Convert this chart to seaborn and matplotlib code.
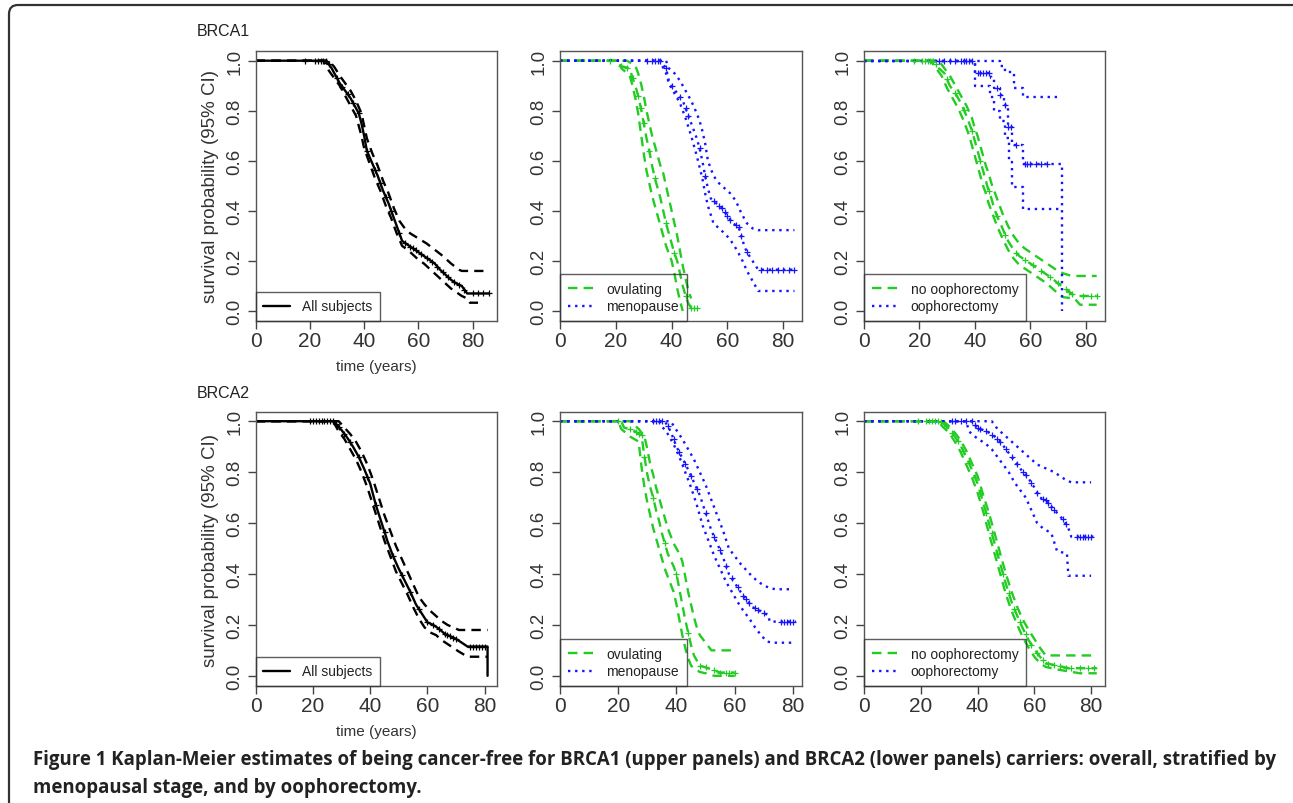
import numpy as np
import pandas as pd
import matplotlib
matplotlib.use("Agg")
import matplotlib.pyplot as plt
from matplotlib.lines import Line2D
from matplotlib.patches import FancyBboxPatch
from matplotlib.transforms import IdentityTransform
import seaborn as sns

# ---- data: (time, survival) curves ----
# BRCA1, all subjects
b1_all_t = [0, 26, 28, 29, 30, 31, 33, 35, 37, 38, 39, 40, 41, 43, 45, 47, 49, 51, 52, 54, 56, 58, 60, 62, 64, 66, 68, 70, 72, 74, 76, 78, 86]
b1_all_s = [1.0, 1.0, 0.97, 0.95, 0.93, 0.91, 0.88, 0.85, 0.81, 0.79, 0.75, 0.70, 0.64, 0.59, 0.54, 0.48, 0.43, 0.37, 0.34, 0.28, 0.265, 0.25, 0.235, 0.22, 0.205, 0.19, 0.165, 0.145, 0.125, 0.11, 0.1, 0.07, 0.07]
b1_all_hi_t = [0, 27, 29, 31, 33, 35, 37, 39, 40, 41, 43, 45, 47, 49, 51, 53, 55, 57, 60, 63, 66, 69, 72, 75, 76, 84]
b1_all_hi_s = [1.0, 1.0, 0.975, 0.94, 0.91, 0.88, 0.84, 0.79, 0.74, 0.69, 0.63, 0.58, 0.52, 0.47, 0.41, 0.36, 0.33, 0.31, 0.29, 0.27, 0.245, 0.22, 0.19, 0.165, 0.16, 0.16]
b1_all_lo_t = [0, 25, 27, 29, 31, 33, 35, 37, 38, 39, 40, 42, 44, 46, 48, 50, 52, 54, 56, 58, 60, 62, 64, 66, 68, 70, 72, 74, 76, 78, 79, 82]
b1_all_lo_s = [1.0, 1.0, 0.96, 0.93, 0.90, 0.86, 0.82, 0.78, 0.74, 0.70, 0.65, 0.59, 0.53, 0.48, 0.42, 0.37, 0.31, 0.26, 0.245, 0.225, 0.205, 0.19, 0.17, 0.15, 0.13, 0.11, 0.09, 0.075, 0.06, 0.05, 0.033, 0.033]
b1_all_cens = [18, 22, 23, 24, 25, 26, 27, 30, 32, 34, 36, 38, 41, 44, 46, 48, 50, 53, 55, 57, 58, 59, 61, 63, 65, 67, 69, 71, 73, 75, 77, 80, 82, 84, 86]

# BRCA1, ovulating / menopause
b1_ovu_t = [0, 20, 21, 25, 26, 27, 28, 29, 30, 31, 32, 33, 34, 35, 36, 37, 38, 39, 40, 41, 42, 43, 44, 45, 46, 47, 49]
b1_ovu_s = [1.0, 1.0, 0.98, 0.97, 0.93, 0.90, 0.86, 0.81, 0.75, 0.69, 0.64, 0.58, 0.53, 0.49, 0.45, 0.40, 0.35, 0.31, 0.27, 0.23, 0.20, 0.15, 0.10, 0.06, 0.03, 0.013, 0.013]
b1_ovu_lo_t = [0, 21, 22, 25, 26, 27, 28, 29, 30, 31, 32, 33, 34, 35, 36, 37, 38, 39, 40, 41, 42, 43, 44]
b1_ovu_lo_s = [1.0, 1.0, 0.97, 0.94, 0.90, 0.85, 0.79, 0.71, 0.63, 0.56, 0.51, 0.46, 0.42, 0.38, 0.34, 0.30, 0.26, 0.23, 0.20, 0.15, 0.09, 0.04, 0.0]
b1_ovu_hi_t = [0, 24, 27, 28, 29, 30, 31, 32, 33, 34, 35, 36, 37, 38, 39, 40, 41, 42, 43, 44, 45, 46, 47]
b1_ovu_hi_s = [1.0, 1.0, 0.98, 0.95, 0.91, 0.86, 0.80, 0.75, 0.70, 0.66, 0.62, 0.58, 0.55, 0.50, 0.45, 0.40, 0.35, 0.30, 0.24, 0.18, 0.13, 0.08, 0.05]
b1_ovu_cens = [18, 22, 24, 26, 28, 29, 30, 32, 34, 38, 41, 45, 47, 48, 49]
b1_men_t = [0, 36, 38, 39, 40, 42, 44, 46, 47, 48, 49, 50, 51, 52, 53, 54, 56, 58, 60, 62, 64, 65, 66, 67, 69, 71, 84]
b1_men_s = [1.0, 1.0, 0.97, 0.92, 0.90, 0.87, 0.84, 0.78, 0.75, 0.72, 0.69, 0.65, 0.60, 0.54, 0.49, 0.45, 0.43, 0.41, 0.38, 0.35, 0.335, 0.30, 0.26, 0.235, 0.20, 0.165, 0.165]
b1_men_hi_t = [0, 38, 39, 41, 43, 45, 47, 49, 50, 51, 52, 53, 55, 57, 59, 61, 63, 65, 67, 69, 71, 84]
b1_men_hi_s = [1.0, 1.0, 0.97, 0.95, 0.92, 0.88, 0.84, 0.79, 0.76, 0.72, 0.67, 0.60, 0.54, 0.51, 0.49, 0.47, 0.44, 0.39, 0.35, 0.33, 0.323, 0.323]
b1_men_lo_t = [0, 36, 37, 38, 39, 41, 43, 45, 47, 49, 51, 52, 53, 55, 57, 59, 61, 63, 65, 67, 69, 71, 84]
b1_men_lo_s = [1.0, 1.0, 0.97, 0.95, 0.91, 0.87, 0.83, 0.77, 0.70, 0.62, 0.53, 0.47, 0.42, 0.35, 0.33, 0.31, 0.285, 0.25, 0.21, 0.16, 0.12, 0.08, 0.08]
b1_men_cens = [31, 33, 34, 35, 36, 38, 40, 43, 45, 46, 50, 52, 55, 57, 58, 59, 60, 61, 63, 64, 65, 67, 72, 74, 76, 78, 80, 82, 84]

# BRCA1, no oophorectomy / oophorectomy (the latter is a small group: real steps)
b1_noo_t = [0, 25, 27, 29, 31, 33, 35, 37, 38, 39, 40, 41, 42, 43, 44, 45, 46, 47, 48, 50, 52, 54, 56, 58, 60, 62, 64, 66, 68, 70, 72, 76, 84]
b1_noo_s = [1.0, 1.0, 0.97, 0.95, 0.90, 0.87, 0.83, 0.78, 0.75, 0.72, 0.68, 0.64, 0.60, 0.56, 0.52, 0.48, 0.45, 0.41, 0.38, 0.33, 0.28, 0.245, 0.22, 0.205, 0.19, 0.175, 0.16, 0.145, 0.13, 0.11, 0.095, 0.06, 0.06]
b1_noo_hi_t = [0, 27, 29, 31, 33, 35, 37, 39, 40, 41, 42, 43, 44, 45, 46, 47, 48, 50, 52, 54, 56, 58, 60, 62, 64, 66, 68, 70, 72, 75, 84]
b1_noo_hi_s = [1.0, 1.0, 0.97, 0.94, 0.90, 0.86, 0.82, 0.77, 0.73, 0.70, 0.66, 0.62, 0.58, 0.55, 0.51, 0.48, 0.45, 0.39, 0.34, 0.30, 0.27, 0.25, 0.235, 0.22, 0.205, 0.19, 0.175, 0.16, 0.15, 0.14, 0.14]
b1_noo_lo_t = [0, 24, 26, 28, 30, 32, 34, 36, 37, 38, 39, 40, 41, 42, 43, 44, 45, 46, 47, 48, 50, 52, 54, 56, 58, 60, 62, 64, 66, 68, 70, 72, 76, 78, 84]
b1_noo_lo_s = [1.0, 1.0, 0.97, 0.94, 0.89, 0.85, 0.81, 0.76, 0.73, 0.70, 0.66, 0.62, 0.58, 0.54, 0.50, 0.47, 0.43, 0.40, 0.37, 0.34, 0.29, 0.245, 0.21, 0.185, 0.17, 0.155, 0.14, 0.125, 0.11, 0.09, 0.07, 0.055, 0.05, 0.025, 0.025]
b1_noo_cens = [18, 21, 22, 23, 24, 25, 26, 30, 33, 36, 39, 42, 45, 48, 51, 55, 58, 61, 64, 67, 70, 73, 74, 75, 79, 82, 84]
b1_oop_t = [0, 40, 46, 47, 49, 50.5, 52, 53.5, 57.5, 71.5]
b1_oop_s = [1.0, 0.95, 0.93, 0.89, 0.862, 0.822, 0.735, 0.662, 0.588, 0.0]
b1_oop_hi_t = [0, 49, 51, 54, 57.5, 71.3]
b1_oop_hi_s = [1.0, 0.98, 0.956, 0.89, 0.856, 0.856]
b1_oop_lo_t = [0, 40, 45.5, 47, 49, 51, 52.5, 53.5, 57.5, 71.3]
b1_oop_lo_s = [1.0, 0.90, 0.856, 0.80, 0.76, 0.69, 0.595, 0.495, 0.408, 0.408]
b1_oop_cens = [27, 29, 31, 33, 35, 36, 37, 38, 39, 41, 42, 43, 44, 45, 48, 49, 51, 52, 53, 55, 58, 59, 60, 62, 64, 66]

# BRCA2, all subjects
b2_all_t = [0, 27, 28, 30, 32, 34, 36, 38, 40, 42, 44, 46, 48, 50, 52, 54, 56, 58, 60, 62, 64, 66, 68, 70, 72, 74, 81, 81]
b2_all_s = [1.0, 1.0, 0.99, 0.965, 0.935, 0.90, 0.86, 0.81, 0.755, 0.67, 0.60, 0.53, 0.47, 0.42, 0.375, 0.33, 0.28, 0.245, 0.21, 0.20, 0.185, 0.165, 0.155, 0.145, 0.13, 0.115, 0.115, 0.0]
b2_all_hi_t = [0, 29, 31, 33, 35, 37, 39, 41, 43, 45, 47, 49, 51, 53, 55, 57, 59, 61, 63, 65, 67, 69, 71, 81]
b2_all_hi_s = [1.0, 1.0, 0.975, 0.95, 0.92, 0.88, 0.83, 0.77, 0.70, 0.63, 0.57, 0.51, 0.46, 0.41, 0.36, 0.31, 0.28, 0.255, 0.235, 0.215, 0.20, 0.19, 0.18, 0.18]
b2_all_lo_t = [0, 27, 29, 31, 33, 35, 37, 39, 41, 43, 45, 47, 49, 51, 53, 55, 57, 59, 61, 63, 65, 67, 69, 71, 74, 81]
b2_all_lo_s = [1.0, 1.0, 0.96, 0.93, 0.89, 0.85, 0.80, 0.74, 0.67, 0.60, 0.53, 0.47, 0.41, 0.365, 0.32, 0.27, 0.225, 0.19, 0.17, 0.16, 0.14, 0.125, 0.11, 0.095, 0.075, 0.075]
b2_all_cens = [19, 20, 21, 22, 23, 24, 25, 26, 27, 28, 29, 31, 33, 36, 39, 42, 45, 48, 51, 54, 57, 60, 62, 64, 66, 67, 68, 69, 70, 75, 76, 77, 78, 79, 80]

# BRCA2, ovulating / menopause
b2_ovu_t = [0, 21, 22, 25, 28, 29, 30, 31, 32, 33, 34, 35, 36, 37, 38, 39, 40, 41, 42, 43, 44, 45, 46, 47, 48, 50, 55, 60]
b2_ovu_s = [1.0, 1.0, 0.975, 0.965, 0.945, 0.86, 0.79, 0.74, 0.70, 0.65, 0.61, 0.56, 0.52, 0.48, 0.455, 0.43, 0.40, 0.34, 0.28, 0.22, 0.17, 0.12, 0.08, 0.06, 0.04, 0.033, 0.013, 0.013]
b2_ovu_hi_t = [0, 24, 27, 29, 30, 31, 32, 33, 34, 35, 36, 37, 38, 39, 40, 41, 42, 43, 44, 45, 46, 47, 48, 50, 52, 60]
b2_ovu_hi_s = [1.0, 1.0, 0.97, 0.94, 0.89, 0.83, 0.79, 0.74, 0.70, 0.66, 0.62, 0.58, 0.55, 0.52, 0.50, 0.48, 0.45, 0.39, 0.33, 0.28, 0.23, 0.19, 0.16, 0.13, 0.10, 0.10]
b2_ovu_lo_t = [0, 20, 21, 24, 27, 28, 29, 30, 31, 32, 33, 34, 35, 36, 37, 38, 39, 40, 41, 42, 43, 44, 45, 46, 48, 50, 53, 60]
b2_ovu_lo_s = [1.0, 1.0, 0.97, 0.94, 0.92, 0.82, 0.74, 0.68, 0.63, 0.58, 0.54, 0.50, 0.46, 0.42, 0.39, 0.36, 0.33, 0.28, 0.22, 0.16, 0.11, 0.07, 0.04, 0.03, 0.015, 0.01, 0.0, 0.0]
b2_ovu_cens = [20, 24, 26, 27, 28, 29, 32, 36, 40, 44, 48, 50, 53, 55, 57, 58, 60]
b2_men_t = [0, 36, 38, 40, 42, 44, 46, 48, 50, 52, 54, 56, 58, 60, 62, 64, 66, 68, 70, 71.5, 72, 81]
b2_men_s = [1.0, 1.0, 0.96, 0.90, 0.855, 0.81, 0.76, 0.71, 0.64, 0.57, 0.52, 0.465, 0.40, 0.365, 0.33, 0.30, 0.27, 0.26, 0.245, 0.24, 0.213, 0.213]
b2_men_hi_t = [0, 38, 40, 42, 44, 46, 48, 50, 52, 54, 56, 58, 60, 62, 64, 66, 68, 70, 72, 74, 79.5]
b2_men_hi_s = [1.0, 1.0, 0.965, 0.93, 0.89, 0.85, 0.80, 0.75, 0.69, 0.63, 0.57, 0.50, 0.47, 0.44, 0.415, 0.39, 0.37, 0.355, 0.345, 0.34, 0.34]
b2_men_lo_t = [0, 34, 35, 37, 39, 41, 43, 45, 47, 49, 51, 53, 55, 57, 59, 61, 63, 65, 67, 69, 71, 73, 79.5]
b2_men_lo_s = [1.0, 1.0, 0.98, 0.95, 0.91, 0.86, 0.80, 0.74, 0.67, 0.59, 0.53, 0.47, 0.42, 0.37, 0.33, 0.29, 0.255, 0.225, 0.19, 0.16, 0.135, 0.13, 0.13]
b2_men_cens = [32, 33, 34, 35, 37, 39, 41, 43, 45, 47, 50, 53, 55, 57, 59, 61, 63, 64, 65, 67, 68, 70, 76, 77, 78, 79, 80]

# BRCA2, no oophorectomy / oophorectomy
b2_noo_t = [0, 26, 28, 30, 32, 34, 36, 38, 40, 42, 44, 46, 48, 50, 52, 54, 56, 58, 60, 62, 64, 68, 72, 82]
b2_noo_s = [1.0, 1.0, 0.99, 0.97, 0.94, 0.905, 0.86, 0.81, 0.755, 0.68, 0.60, 0.52, 0.44, 0.36, 0.29, 0.235, 0.185, 0.14, 0.105, 0.075, 0.05, 0.04, 0.03, 0.03]
b2_noo_hi_t = [0, 28, 30, 32, 34, 36, 38, 40, 42, 44, 46, 48, 50, 52, 54, 56, 58, 60, 62, 64, 82]
b2_noo_hi_s = [1.0, 1.0, 0.98, 0.955, 0.925, 0.885, 0.835, 0.785, 0.71, 0.64, 0.56, 0.48, 0.40, 0.33, 0.27, 0.22, 0.18, 0.145, 0.11, 0.08, 0.08]
b2_noo_lo_t = [0, 26, 28, 30, 32, 34, 36, 38, 40, 42, 44, 46, 48, 50, 52, 54, 56, 58, 60, 62, 64, 68, 76, 82]
b2_noo_lo_s = [1.0, 1.0, 0.975, 0.955, 0.92, 0.88, 0.83, 0.78, 0.72, 0.645, 0.56, 0.48, 0.40, 0.32, 0.255, 0.20, 0.15, 0.11, 0.075, 0.05, 0.035, 0.025, 0.01, 0.01]
b2_noo_cens = [19, 22, 23, 24, 25, 26, 27, 29, 31, 33, 35, 37, 39, 41, 43, 45, 47, 49, 51, 53, 55, 57, 59, 61, 63, 65, 67, 69, 71, 73, 76, 79, 81]
b2_oop_t = [0, 38, 40, 42, 44, 46, 48, 50, 52, 54, 56, 58, 60, 62, 64, 66, 68, 70, 72, 73, 81]
b2_oop_s = [1.0, 1.0, 0.973, 0.965, 0.955, 0.94, 0.92, 0.89, 0.86, 0.83, 0.80, 0.775, 0.74, 0.70, 0.69, 0.665, 0.64, 0.615, 0.58, 0.547, 0.547]
b2_oop_hi_t = [0, 45, 47, 49, 51, 53, 55, 57, 59, 61, 63, 65, 67, 69, 71, 73, 80]
b2_oop_hi_s = [1.0, 1.0, 0.97, 0.95, 0.93, 0.91, 0.89, 0.87, 0.85, 0.83, 0.82, 0.81, 0.80, 0.785, 0.77, 0.76, 0.76]
b2_oop_lo_t = [0, 36, 37, 39, 41, 43, 45, 47, 49, 51, 53, 55, 57, 59, 61, 63, 66, 68, 71.5, 72, 80]
b2_oop_lo_s = [1.0, 1.0, 0.96, 0.94, 0.925, 0.91, 0.89, 0.86, 0.83, 0.80, 0.76, 0.73, 0.70, 0.65, 0.60, 0.58, 0.56, 0.49, 0.48, 0.393, 0.393]
b2_oop_cens = [31, 32, 34, 36, 38, 39, 40, 41, 43, 45, 47, 48, 50, 52, 54, 56, 57, 59, 61, 63, 64, 65, 66, 67, 70, 71, 75, 76, 77, 78, 79, 80]

x_ticks = [0, 20, 40, 60, 80]
y_ticks = [0.0, 0.2, 0.4, 0.6, 0.8, 1.0]
x_max = [[89, 86.6, 86.9], [84.3, 83, 84.8]]
row_titles = ["BRCA1", "BRCA2"]
caption_1 = ("Figure 1 Kaplan-Meier estimates of being cancer-free for BRCA1 (upper panels) and BRCA2 "
             "(lower panels) carriers: overall, stratified by")
caption_2 = "menopausal stage, and by oophorectomy."

GREEN = "#22cc22"
BLUE = "#1414ff"
DASH = (0, (4, 2.6))
DOT = (0, (1, 2))

sns.set_style("ticks")
plt.rcParams['font.family'] = ['Liberation Sans', 'DejaVu Sans']

W, H = 1293, 804
fig = plt.figure(figsize=(W / 100, H / 100), dpi=100)


def km(ax, t, s, color, ls, steps, lw=1.7):
    df = pd.DataFrame({"time": t, "surv": s})
    sns.lineplot(data=df, x="time", y="surv", ax=ax, color=color, linestyle=ls, lw=lw,
                 estimator=None, sort=False, drawstyle="steps-post" if steps else "default")


def censor(ax, t, s, cens, color, steps):
    t = np.asarray(t, dtype=float)
    s = np.asarray(s, dtype=float)
    if steps:
        y = s[np.searchsorted(t, cens, side="right") - 1]
    else:
        y = np.interp(cens, t, s)
    sns.scatterplot(x=cens, y=y, ax=ax, marker="+", color=color, s=22, linewidth=0.9, zorder=4)


def style(ax, xmax, ylim, first_col):
    ax.set_xlim(0, xmax)
    ax.set_ylim(*ylim)
    ax.set_xticks(x_ticks)
    ax.set_yticks(y_ticks)
    ax.set_yticklabels([f"{v:.1f}" for v in y_ticks], rotation=90, va="center")
    ax.tick_params(axis="x", labelsize=15, length=6, width=1, color="#444", labelcolor="#333", pad=1)
    ax.tick_params(axis="y", labelsize=13.5, length=6, width=1, color="#444", labelcolor="#333", pad=3)
    for sp in ax.spines.values():
        sp.set_visible(True)
        sp.set_color("#555")
        sp.set_linewidth(1)
    ax.set_xlabel("")
    ax.set_ylabel("")
    if first_col:
        ax.set_ylabel("survival probability (95% CI)", fontsize=13.5, color="#333", labelpad=5)
        ax.set_xlabel("time (years)", fontsize=11, color="#333", labelpad=7)


def legend(ax, items):
    handles = [Line2D([], [], color=c, linestyle=ls, lw=1.7) for c, ls, _ in items]
    labels = [lab for _, _, lab in items]
    leg = ax.legend(handles, labels, loc="lower left", fontsize=10, frameon=True, fancybox=False,
                    borderaxespad=0, handlelength=1.9, handletextpad=0.9, borderpad=0.55,
                    labelspacing=0.25)
    leg.get_frame().set_edgecolor("#333")
    leg.get_frame().set_facecolor("none")
    leg.get_frame().set_linewidth(1)
    for txt in leg.get_texts():
        txt.set_color("#222")


# axes boxes in pixels (left, top, right, bottom)
col_px = [(255.7, 497.0), (560.0, 801.7), (864.0, 1104.7)]
row_px = [(51.7, 322.0), (413.3, 687.0)]
ylims = [(-0.04, 1.04), (-0.04, 1.035)]

groups = [
    [
        [(b1_all_t, b1_all_s, b1_all_lo_t, b1_all_lo_s, b1_all_hi_t, b1_all_hi_s, b1_all_cens, "black", "All subjects", False)],
        [(b1_ovu_t, b1_ovu_s, b1_ovu_lo_t, b1_ovu_lo_s, b1_ovu_hi_t, b1_ovu_hi_s, b1_ovu_cens, GREEN, "ovulating", False),
         (b1_men_t, b1_men_s, b1_men_lo_t, b1_men_lo_s, b1_men_hi_t, b1_men_hi_s, b1_men_cens, BLUE, "menopause", False)],
        [(b1_noo_t, b1_noo_s, b1_noo_lo_t, b1_noo_lo_s, b1_noo_hi_t, b1_noo_hi_s, b1_noo_cens, GREEN, "no oophorectomy", False),
         (b1_oop_t, b1_oop_s, b1_oop_lo_t, b1_oop_lo_s, b1_oop_hi_t, b1_oop_hi_s, b1_oop_cens, BLUE, "oophorectomy", True)],
    ],
    [
        [(b2_all_t, b2_all_s, b2_all_lo_t, b2_all_lo_s, b2_all_hi_t, b2_all_hi_s, b2_all_cens, "black", "All subjects", False)],
        [(b2_ovu_t, b2_ovu_s, b2_ovu_lo_t, b2_ovu_lo_s, b2_ovu_hi_t, b2_ovu_hi_s, b2_ovu_cens, GREEN, "ovulating", False),
         (b2_men_t, b2_men_s, b2_men_lo_t, b2_men_lo_s, b2_men_hi_t, b2_men_hi_s, b2_men_cens, BLUE, "menopause", False)],
        [(b2_noo_t, b2_noo_s, b2_noo_lo_t, b2_noo_lo_s, b2_noo_hi_t, b2_noo_hi_s, b2_noo_cens, GREEN, "no oophorectomy", False),
         (b2_oop_t, b2_oop_s, b2_oop_lo_t, b2_oop_lo_s, b2_oop_hi_t, b2_oop_hi_s, b2_oop_cens, BLUE, "oophorectomy", False)],
    ],
]

for r in range(2):
    top, bot = row_px[r]
    for c in range(3):
        left, right = col_px[c]
        ax = fig.add_axes([left / W, 1 - bot / H, (right - left) / W, (bot - top) / H])
        items = []
        for (t, s, lt, ls_, ht, hs, cens, color, lab, steps) in groups[r][c]:
            if color == "black":
                main_ls, ci_ls = "-", DASH
            elif color == GREEN:
                main_ls, ci_ls = DASH, DASH
            else:
                main_ls, ci_ls = DOT, DOT
            km(ax, lt, ls_, color, ci_ls, steps)
            km(ax, ht, hs, color, ci_ls, steps)
            km(ax, t, s, color, main_ls, steps)
            censor(ax, t, s, cens, color, steps)
            items.append((color, main_ls, lab))
        style(ax, x_max[r][c], ylims[r], c == 0)
        legend(ax, items)
    fig.text(197 / W, 1 - (row_px[r][0] - 20) / H, row_titles[r], fontsize=11.5, color="#222",
             ha="left", va="center")

# caption
cap_font = ["Open Sans", "DejaVu Sans"]
fig.text(33 / W, 1 - 760 / H, caption_1, fontsize=13.4, fontweight="bold", family=cap_font,
         color="#222", ha="left", va="center")
fig.text(33 / W, 1 - 788 / H, caption_2, fontsize=13.4, fontweight="bold", family=cap_font,
         color="#222", ha="left", va="center")

# outer rounded frame
frame = FancyBboxPatch((9, -20), 1320, H - 6 + 20, boxstyle="round,pad=0,rounding_size=9",
                       transform=IdentityTransform(), fill=False, edgecolor="#333", lw=1.6)
fig.patches.append(frame)

fig.savefig("out.png", dpi=100)
